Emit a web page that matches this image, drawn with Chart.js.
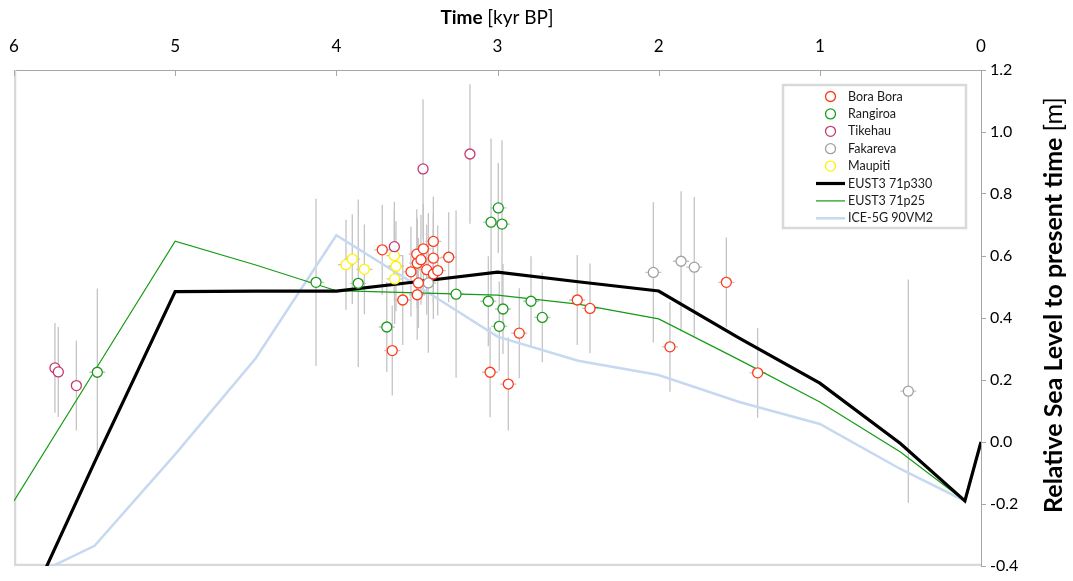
<!DOCTYPE html>
<html>
<head>
<meta charset="utf-8">
<script src="https://cdn.jsdelivr.net/npm/chart.js@4.4.1/dist/chart.umd.min.js"></script>
<style>
  html, body { margin: 0; padding: 0; background: #fff; }
</style>
</head>
<body>
<canvas id="c" width="1073" height="581"></canvas>
<script>
// model runs, kyr BP
const modelTime = [6, 5.5, 5, 4.5, 4, 3.5, 3, 2.5, 2, 1.5, 1, 0.5, 0.1, 0];
const eust330 = [-0.63, -0.065, 0.485, 0.487, 0.487, 0.517, 0.548, 0.517, 0.487, 0.335, 0.19, -0.005, -0.19, 0.0];
const eust25  = [-0.19, 0.229, 0.648, 0.571, 0.488, 0.481, 0.474, 0.445, 0.397, 0.265, 0.129, -0.032, -0.19, 0.0];
const ice5g   = [-0.46, -0.335, -0.04, 0.27, 0.667, 0.505, 0.34, 0.262, 0.216, 0.129, 0.058, -0.087, -0.19, 0.0];

// observations: age, level, level error
const boraT = [3.715, 3.653, 3.588, 3.537, 3.501, 3.498, 3.491, 3.498, 3.475, 3.460, 3.439, 3.398, 3.398, 3.398, 3.371, 3.303, 3.046, 2.933, 2.865, 2.505, 2.426, 1.930, 1.580, 1.386];
const boraV = [0.620, 0.295, 0.458, 0.549, 0.606, 0.577, 0.513, 0.475, 0.588, 0.623, 0.556, 0.647, 0.593, 0.542, 0.553, 0.596, 0.225, 0.187, 0.351, 0.458, 0.431, 0.307, 0.515, 0.223];
const boraE = [0.145, 0.145, 0.145, 0.145, 0.145, 0.145, 0.145, 0.145, 0.145, 0.145, 0.145, 0.145, 0.145, 0.145, 0.145, 0.145, 0.145, 0.15, 0.145, 0.145, 0.145, 0.145, 0.145, 0.145];

const rangT = [5.483, 4.126, 3.864, 3.687, 3.257, 3.057, 3.040, 2.995, 2.989, 2.972, 2.966, 2.792, 2.722];
const rangV = [0.225, 0.515, 0.512, 0.371, 0.477, 0.454, 0.709, 0.755, 0.373, 0.703, 0.429, 0.454, 0.402];
const rangE = [0.27, 0.27, 0.27, 0.145, 0.27, 0.145, 0.27, 0.145, 0.145, 0.27, 0.145, 0.145, 0.145];

const tikeT = [5.746, 5.725, 5.613, 3.640, 3.462, 3.171];
const tikeV = [0.239, 0.226, 0.182, 0.630, 0.881, 0.929];
const tikeE = [0.145, 0.145, 0.145, 0.145, 0.225, 0.225];

const fakaT = [3.429, 2.033, 1.861, 1.779, 0.451];
const fakaV = [0.513, 0.547, 0.583, 0.564, 0.164];
const fakaE = [0.225, 0.226, 0.226, 0.226, 0.36];

const maupT = [3.940, 3.901, 3.826, 3.640, 3.630, 3.638];
const maupV = [0.572, 0.590, 0.557, 0.601, 0.567, 0.526];
const maupE = [0.145, 0.145, 0.145, 0.145, 0.145, 0.145];

const xTicks = [6, 5, 4, 3, 2, 1, 0];

function pts(t, v) { return t.map((x, i) => ({ x: x, y: v[i] })); }

function site(label, color, t, v, e, xe) {
  return {
    type: 'scatter', label: label, data: pts(t, v), yErr: e, xErr: xe,
    pointRadius: 5, pointHoverRadius: 5, pointBorderWidth: 1.3,
    borderColor: color, backgroundColor: '#fff', order: 0
  };
}
function model(label, color, v, w, ord) {
  return {
    type: 'line', label: label, data: pts(modelTime, v),
    borderColor: color, borderWidth: w, pointRadius: 0, tension: 0,
    fill: false, order: ord
  };
}

const errorBars = {
  id: 'errorBars',
  beforeDatasetsDraw(chart) {
    const ctx = chart.ctx, xs = chart.scales.x, ys = chart.scales.y, a = chart.chartArea;
    ctx.save();
    ctx.beginPath();
    ctx.rect(a.left, a.top, a.right - a.left, a.bottom - a.top);
    ctx.clip();
    // plot frame, left and bottom
    ctx.strokeStyle = '#D9D9D9';
    ctx.lineWidth = 2.5;
    ctx.beginPath();
    ctx.moveTo(a.left + 1, a.top);
    ctx.lineTo(a.left + 1, a.bottom - 1);
    ctx.lineTo(a.right, a.bottom - 1);
    ctx.stroke();
    ctx.strokeStyle = '#C4C4C4';
    ctx.lineWidth = 1.3;
    chart.data.datasets.forEach(ds => {
      if (!ds.yErr) return;
      ds.data.forEach((p, i) => {
        const px = xs.getPixelForValue(p.x);
        ctx.beginPath();
        ctx.moveTo(px, ys.getPixelForValue(p.y + ds.yErr[i]));
        ctx.lineTo(px, ys.getPixelForValue(p.y - ds.yErr[i]));
        if (ds.xErr) {
          const py = ys.getPixelForValue(p.y);
          ctx.moveTo(xs.getPixelForValue(p.x + ds.xErr), py);
          ctx.lineTo(xs.getPixelForValue(p.x - ds.xErr), py);
        }
        ctx.stroke();
      });
    });
    ctx.restore();
  },
  afterDraw(chart) {
    const ctx = chart.ctx, xs = chart.scales.x, a = chart.chartArea;
    ctx.save();
    // inside ticks on the time axis
    ctx.strokeStyle = '#A6A6A6';
    ctx.lineWidth = 1;
    xTicks.forEach(t => {
      const px = Math.round(xs.getPixelForValue(t)) + 0.5;
      ctx.beginPath();
      ctx.moveTo(px, a.top);
      ctx.lineTo(px, a.top + 6);
      ctx.stroke();
    });
    // axis titles
    ctx.fillStyle = '#000';
    ctx.textBaseline = 'middle';
    ctx.font = 'bold 19px Lato';
    const t1 = 'Time ', t2 = '[kyr BP]';
    const w1 = ctx.measureText(t1).width;
    ctx.font = '19px Lato';
    const w2 = ctx.measureText(t2).width;
    let x0 = 497 - (w1 + w2) / 2;
    ctx.font = 'bold 19px Lato';
    ctx.fillText(t1, x0, 18);
    ctx.font = '19px Lato';
    ctx.fillText(t2, x0 + w1, 18);

    ctx.save();
    ctx.translate(1054, 305);
    ctx.rotate(-Math.PI / 2);
    ctx.font = 'bold 25px Lato';
    const y1 = 'Relative Sea Level to present time ', y2 = '[m]';
    const v1 = ctx.measureText(y1).width;
    ctx.font = '25px Lato';
    const v2 = ctx.measureText(y2).width;
    x0 = -(v1 + v2) / 2;
    ctx.font = 'bold 25px Lato';
    ctx.fillText(y1, x0, 0);
    ctx.font = '25px Lato';
    ctx.fillText(y2, x0 + v1, 0);
    ctx.restore();

    // legend box
    ctx.strokeStyle = '#D9D9D9';
    ctx.lineWidth = 2.5;
    ctx.strokeRect(783, 85, 183, 143);
    ctx.font = '12.5px Lato';
    ctx.textBaseline = 'middle';
    chart.data.datasets.forEach((ds, i) => {
      const y = 96.5 + i * 17.4;
      if (ds.type === 'scatter') {
        ctx.beginPath();
        ctx.arc(830.5, y, 5, 0, Math.PI * 2);
        ctx.fillStyle = '#fff';
        ctx.fill();
        ctx.strokeStyle = ds.borderColor;
        ctx.lineWidth = 1.3;
        ctx.stroke();
      } else {
        ctx.beginPath();
        ctx.moveTo(816, y);
        ctx.lineTo(845, y);
        ctx.strokeStyle = ds.borderColor;
        ctx.lineWidth = ds.borderWidth;
        ctx.stroke();
      }
      ctx.fillStyle = '#1a1a1a';
      ctx.fillText(ds.label, 848, y);
    });
    ctx.restore();
  }
};

Chart.defaults.font.family = 'Lato';
Chart.defaults.color = '#000';

new Chart(document.getElementById('c').getContext('2d'), {
  data: {
    datasets: [
      site('Bora Bora', '#FF3A1A', boraT, boraV, boraE, 0.05),
      site('Rangiroa', '#1B9A1B', rangT, rangV, rangE, 0.05),
      site('Tikehau', '#C03A6E', tikeT, tikeV, tikeE, 0),
      site('Fakareva', '#A0A0A0', fakaT, fakaV, fakaE, 0.05),
      site('Maupiti', '#FFF200', maupT, maupV, maupE, 0.05),
      model('EUST3 71p330', '#000000', eust330, 3.2, 1),
      model('EUST3 71p25', '#159B15', eust25, 1.2, 2),
      model('ICE-5G 90VM2', '#C6D9F0', ice5g, 2.5, 3)
    ]
  },
  options: {
    responsive: false,
    animation: false,
    devicePixelRatio: 1,
    layout: { padding: { left: 14, right: 0, top: 0, bottom: 15 } },
    plugins: { legend: { display: false }, tooltip: { enabled: false } },
    scales: {
      x: {
        type: 'linear', position: 'top', reverse: true, min: 0, max: 6,
        grid: { display: false, drawTicks: false },
        border: { display: true, color: '#A6A6A6', width: 1 },
        ticks: { stepSize: 1, padding: 13, font: { size: 17 }, color: '#000' },
        afterFit(s) { s.height = 70; s.paddingLeft = 0; s.paddingRight = 0; }
      },
      y: {
        type: 'linear', position: 'right', min: -0.4, max: 1.2,
        grid: { drawOnChartArea: false, drawTicks: true, tickLength: 5, color: '#A6A6A6' },
        border: { display: true, color: '#A6A6A6', width: 1 },
        ticks: { stepSize: 0.2, padding: 4, font: { size: 16 }, color: '#000',
                 callback: v => v.toFixed(1) },
        afterFit(s) { s.width = 92; s.paddingTop = 0; s.paddingBottom = 0; }
      }
    }
  },
  plugins: [errorBars]
});
</script>
</body>
</html>
